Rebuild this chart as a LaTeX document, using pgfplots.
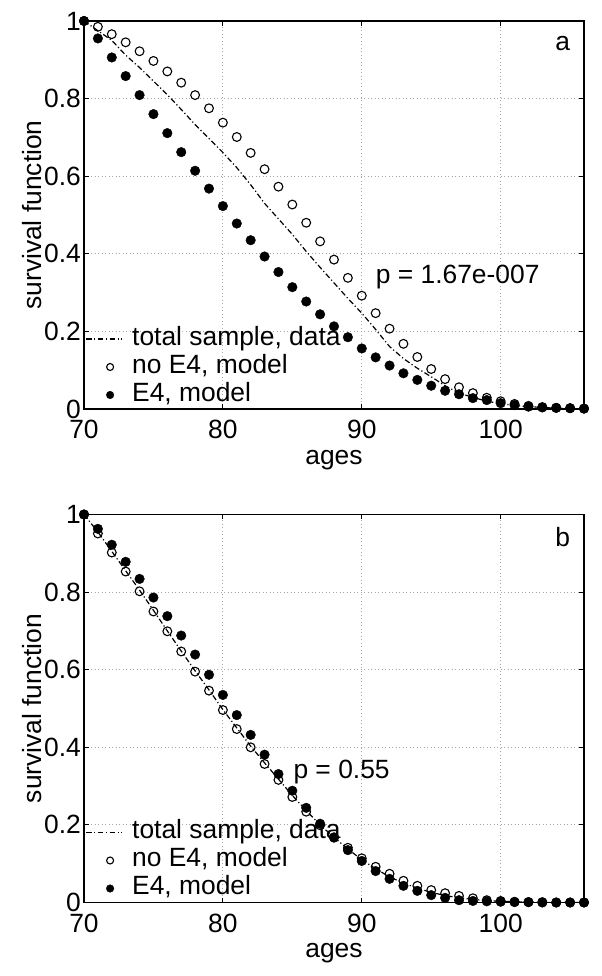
\documentclass[border=0pt]{standalone}
\usepackage{fontspec}
\setmainfont{Liberation Sans}
\usepackage{pgfplots}
\pgfplotsset{compat=1.18}
\usepackage{pgfplotstable}

% ages, no E4 (model), E4 (model), total sample (data) -- panel a
\pgfplotstableread{
age  noe4   e4     total
70   1.000  1.000  1.000
71   0.985  0.955  0.975
72   0.966  0.906  0.950
73   0.945  0.858  0.912
74   0.922  0.809  0.880
75   0.897  0.760  0.845
76   0.870  0.711  0.810
77   0.841  0.662  0.772
78   0.809  0.614  0.733
79   0.775  0.568  0.697
80   0.738  0.523  0.661
81   0.701  0.478  0.622
82   0.660  0.435  0.578
83   0.618  0.393  0.530
84   0.573  0.353  0.490
85   0.527  0.314  0.450
86   0.480  0.277  0.406
87   0.432  0.244  0.365
88   0.385  0.213  0.325
89   0.338  0.185  0.285
90   0.292  0.156  0.247
91   0.247  0.133  0.205
92   0.207  0.112  0.161
93   0.168  0.092  0.130
94   0.134  0.075  0.105
95   0.103  0.060  0.083
96   0.077  0.047  0.060
97   0.056  0.038  0.041
98   0.041  0.028  0.030
99   0.029  0.023  0.020
100  0.020  0.015  0.014
101  0.013  0.010  0.009
102  0.008  0.006  0.006
103  0.005  0.004  0.004
104  0.003  0.003  0.002
105  0.002  0.002  0.001
106  0.001  0.001  0.000
}\panela

% panel b
\pgfplotstableread{
age  noe4   e4     total
70   1.000  1.000  1.000
71   0.951  0.963  0.955
72   0.902  0.922  0.905
73   0.853  0.878  0.855
74   0.802  0.834  0.805
75   0.750  0.786  0.753
76   0.699  0.738  0.700
77   0.647  0.688  0.648
78   0.595  0.639  0.597
79   0.546  0.587  0.548
80   0.496  0.535  0.497
81   0.447  0.483  0.450
82   0.400  0.432  0.403
83   0.357  0.381  0.360
84   0.316  0.331  0.318
85   0.272  0.288  0.276
86   0.234  0.244  0.237
87   0.199  0.203  0.200
88   0.167  0.168  0.168
89   0.141  0.135  0.138
90   0.114  0.107  0.110
91   0.092  0.081  0.087
92   0.074  0.061  0.066
93   0.056  0.043  0.050
94   0.043  0.030  0.037
95   0.032  0.019  0.026
96   0.024  0.012  0.018
97   0.017  0.006  0.012
98   0.011  0.004  0.008
99   0.006  0.003  0.005
100  0.004  0.002  0.003
101  0.002  0.001  0.002
102  0.001  0.001  0.001
103  0.001  0.000  0.000
104  0.000  0.000  0.000
105  0.000  0.000  0.000
106  0.000  0.000  0.000
}\panelb

\newcommand{\bigfont}{\fontsize{26.5}{30}\selectfont}

\pgfplotsset{
  survstyle/.style={
    width=500bp, height=388bp, scale only axis,
    xmin=70, xmax=106, ymin=0, ymax=1,
    xtick={70,80,90,100},
    ytick={0,0.2,0.4,0.6,0.8,1},
    yticklabels={0,0.2,0.4,0.6,0.8,1},
    /pgf/number format/assume math mode=true,
    tick align=inside,
    major tick length=5bp,
    axis line style={line width=1.2bp},
    every tick/.style={black, line width=1bp},
    grid=major,
    major grid style={gray!70, line width=0.8bp, dash pattern=on 0.9bp off 2.6bp},
    tick label style={font=\bigfont},
    xticklabel style={anchor=base, yshift=-30bp, inner sep=0pt},
    yticklabel style={anchor=east, xshift=-3bp, inner sep=0pt},
    label style={font=\bigfont},
    xlabel={ages},
    xlabel style={at={(axis description cs:0.5,-0.142)}, anchor=base, inner sep=0pt},
    ylabel={survival function},
    ylabel style={at={(axis description cs:-0.084,0.5)}, anchor=base, inner sep=0pt},
    legend cell align=left,
    legend style={draw=none, fill=none, at={(axis description cs:0,0)},
      anchor=south west, xshift=1.5bp, inner sep=0pt, outer sep=0pt,
      row sep=0pt, column sep=8bp, font=\bigfont,
      nodes={inner sep=1.5bp, text height=19bp, text depth=6bp}},
  },
  lineplot/.style={black, line width=1.2bp, dash pattern=on 5.5bp off 2.5bp on 1.2bp off 2.5bp,
    legend image code/.code={\draw[##1] (0bp,0bp) -- (36bp,0bp);}},
  openplot/.style={only marks, mark=o, mark size=4.4bp, black, mark options={line width=1.1bp},
    legend image code/.code={\path (0bp,0bp) (36bp,0bp); \draw[##1, mark size=3.5bp] plot coordinates {(24bp,0bp)};}},
  fillplot/.style={only marks, mark=*, mark size=4.8bp, black,
    legend image code/.code={\path (0bp,0bp) (36bp,0bp); \draw[##1, mark size=3.8bp] plot coordinates {(24bp,0bp)};}},
}

\begin{document}
\begin{tikzpicture}
\path[use as bounding box] (0,0) rectangle (602bp,976bp);

\begin{axis}[survstyle, at={(84bp,567bp)}, anchor=south west]
  \addplot[lineplot] table[x=age, y=total] {\panela};
  \addlegendentry{total sample, data}
  \addplot[openplot] table[x=age, y=noe4] {\panela};
  \addlegendentry{no E4, model}
  \addplot[fillplot] table[x=age, y=e4] {\panela};
  \addlegendentry{E4, model}
  \node[font=\bigfont, anchor=west, inner sep=0pt] at (axis cs:91.0,0.341) {p = 1.67e-007};
  \node[font=\bigfont, inner sep=0pt] at (axis cs:104.47,0.9425) {a};
\end{axis}

\begin{axis}[survstyle, at={(84bp,73.5bp)}, anchor=south west]
  \addplot[lineplot] table[x=age, y=total] {\panelb};
  \addlegendentry{total sample, data}
  \addplot[openplot] table[x=age, y=noe4] {\panelb};
  \addlegendentry{no E4, model}
  \addplot[fillplot] table[x=age, y=e4] {\panelb};
  \addlegendentry{E4, model}
  \node[font=\bigfont, anchor=west, inner sep=0pt] at (axis cs:85.07,0.3375) {p = 0.55};
  \node[font=\bigfont, inner sep=0pt] at (axis cs:104.47,0.9425) {b};
\end{axis}
\end{tikzpicture}
\end{document}
